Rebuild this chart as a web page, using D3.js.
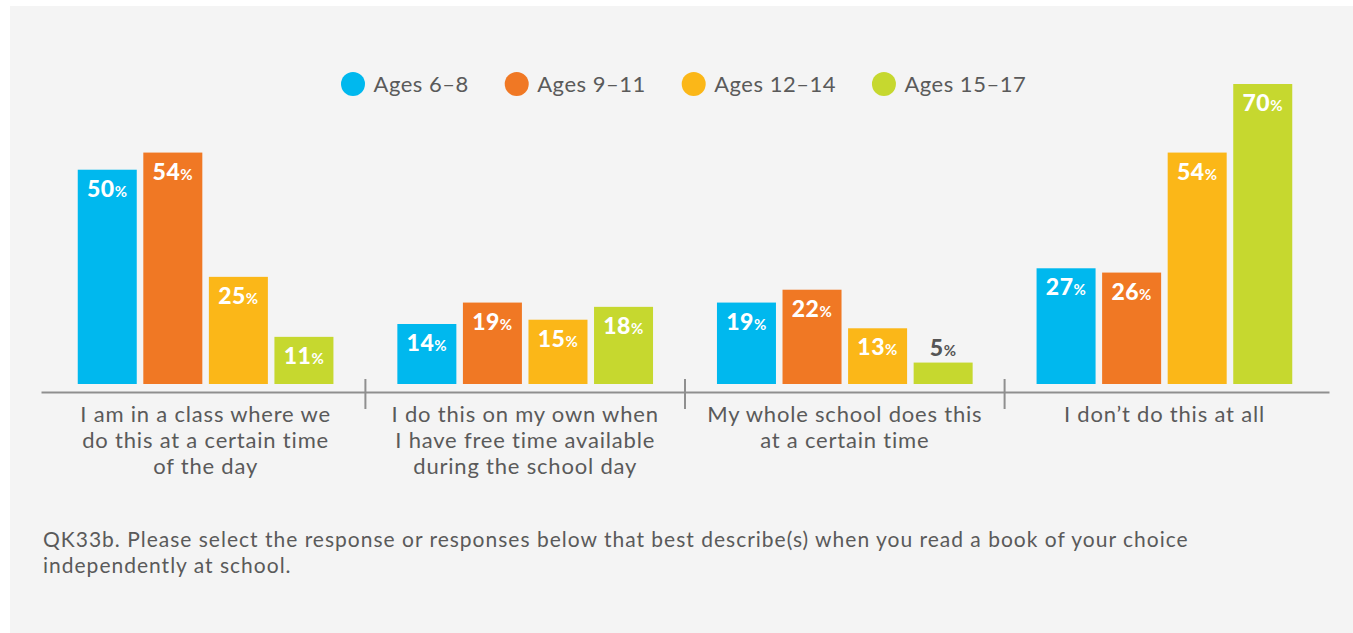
<!DOCTYPE html>
<html>
<head>
<meta charset="utf-8">
<script src="https://cdn.jsdelivr.net/npm/d3@7"></script>
<style>
  html, body { margin: 0; padding: 0; background: #ffffff; }
  svg { display: block; }
</style>
</head>
<body>
<svg id="chart" width="1353" height="633"></svg>
<script>
// ---- data ----
const categories = [
  "I am in a class where we\ndo this at a certain time\nof the day",
  "I do this on my own when\nI have free time available\nduring the school day",
  "My whole school does this\nat a certain time",
  "I don’t do this at all"
];
const seriesNames = ["Ages 6–8", "Ages 9–11", "Ages 12–14", "Ages 15–17"];
const ages6to8   = [50, 14, 19, 27];
const ages9to11  = [54, 19, 22, 26];
const ages12to14 = [25, 15, 13, 54];
const ages15to17 = [11, 18, 5, 70];
const seriesColors = ["#00b8ee", "#f07824", "#fbb718", "#c6d82f"];
const footnoteLines = [
  "QK33b. Please select the response or responses below that best describe(s) when you read a book of your choice",
  "independently at school."
];

const seriesValues = [ages6to8, ages9to11, ages12to14, ages15to17];

// ---- layout ----
const svg = d3.select("#chart");
const W = 1353, H = 633;
const FONT = "Lato, 'Open Sans', sans-serif";

svg.append("rect").attr("x", 10).attr("y", 6).attr("width", W - 10).attr("height", H - 6)
  .attr("fill", "#f4f4f4");

const x0 = d3.scaleBand().domain(categories).range([41, 1329])
  .paddingInner(0.2).paddingOuter(0.115);
const x1 = d3.scaleBand().domain(seriesNames).range([0, x0.bandwidth()]).paddingInner(0.1);
const y = d3.scaleLinear().domain([0, 70]).range([384, 84]);

// bars
const rows = [];
categories.forEach((c, ci) => {
  seriesNames.forEach((s, si) => rows.push({ cat: c, series: s, si, value: seriesValues[si][ci] }));
});

const g = svg.append("g");
g.selectAll("rect.bar").data(rows).join("rect")
  .attr("class", "bar")
  .attr("x", d => x0(d.cat) + x1(d.series))
  .attr("y", d => y(d.value))
  .attr("width", x1.bandwidth())
  .attr("height", d => y(0) - y(d.value))
  .attr("fill", d => seriesColors[d.si]);

// value labels
const lab = g.selectAll("text.val").data(rows).join("text")
  .attr("class", "val")
  .attr("x", d => x0(d.cat) + x1(d.series) + x1.bandwidth() / 2)
  .attr("y", d => (y(0) - y(d.value) > 35) ? y(d.value) + 27 : y(d.value) - 7)
  .attr("text-anchor", "middle")
  .attr("font-family", FONT)
  .attr("font-weight", 900)
  .attr("letter-spacing", 0.5)
  .attr("fill", d => (y(0) - y(d.value) > 35) ? "#ffffff" : "#555555");
lab.append("tspan").attr("font-size", 23).text(d => d.value);
lab.append("tspan").attr("font-size", 15).attr("font-weight", 700).text("%");

// axis
const axis = svg.append("g").attr("transform", "translate(0,392)")
  .call(d3.axisBottom(x0).tickSize(0).tickSizeOuter(0).tickFormat(""));
axis.select(".domain").attr("stroke", "#8f8f8f").attr("stroke-width", 2);

// separators
const step = x0.step();
svg.selectAll("line.sep").data(categories.slice(0, -1)).join("line")
  .attr("class", "sep")
  .attr("x1", d => x0(d) + x0.bandwidth() + (step - x0.bandwidth()) / 2)
  .attr("x2", d => x0(d) + x0.bandwidth() + (step - x0.bandwidth()) / 2)
  .attr("y1", 379).attr("y2", 409)
  .attr("stroke", "#8f8f8f").attr("stroke-width", 2);

// category labels
const cl = svg.selectAll("text.cat").data(categories).join("text")
  .attr("class", "cat")
  .attr("x", d => x0(d) + x0.bandwidth() / 2)
  .attr("y", 422)
  .attr("text-anchor", "middle")
  .attr("font-family", FONT)
  .attr("font-size", 22)
  .attr("letter-spacing", 0.8)
  .attr("fill", "#5a5a5a");
cl.selectAll("tspan").data(d => d.split("\n").map(t => ({ t, x: x0(d) + x0.bandwidth() / 2 })))
  .join("tspan")
  .attr("x", d => d.x)
  .attr("dy", (d, i) => i === 0 ? 0 : 26)
  .text(d => d.t);

// legend
const leg = svg.append("g");
let lx = 353;
seriesNames.forEach((s, i) => {
  leg.append("circle").attr("cx", lx).attr("cy", 84).attr("r", 12).attr("fill", seriesColors[i]);
  const t = leg.append("text").attr("x", lx + 20.5).attr("y", 92)
    .attr("font-family", FONT).attr("font-size", 22).attr("letter-spacing", 0.5)
    .attr("fill", "#5a5a5a").text(s);
  const w = t.node().getComputedTextLength();
  lx = lx + 20.5 + w + 48;
});

// footnote
svg.selectAll("text.foot").data(footnoteLines).join("text")
  .attr("class", "foot")
  .attr("x", 43)
  .attr("y", (d, i) => 547 + i * 26)
  .attr("font-family", FONT)
  .attr("font-size", 21)
  .attr("letter-spacing", 1)
  .attr("fill", "#5a5a5a")
  .text(d => d);
</script>
</body>
</html>
